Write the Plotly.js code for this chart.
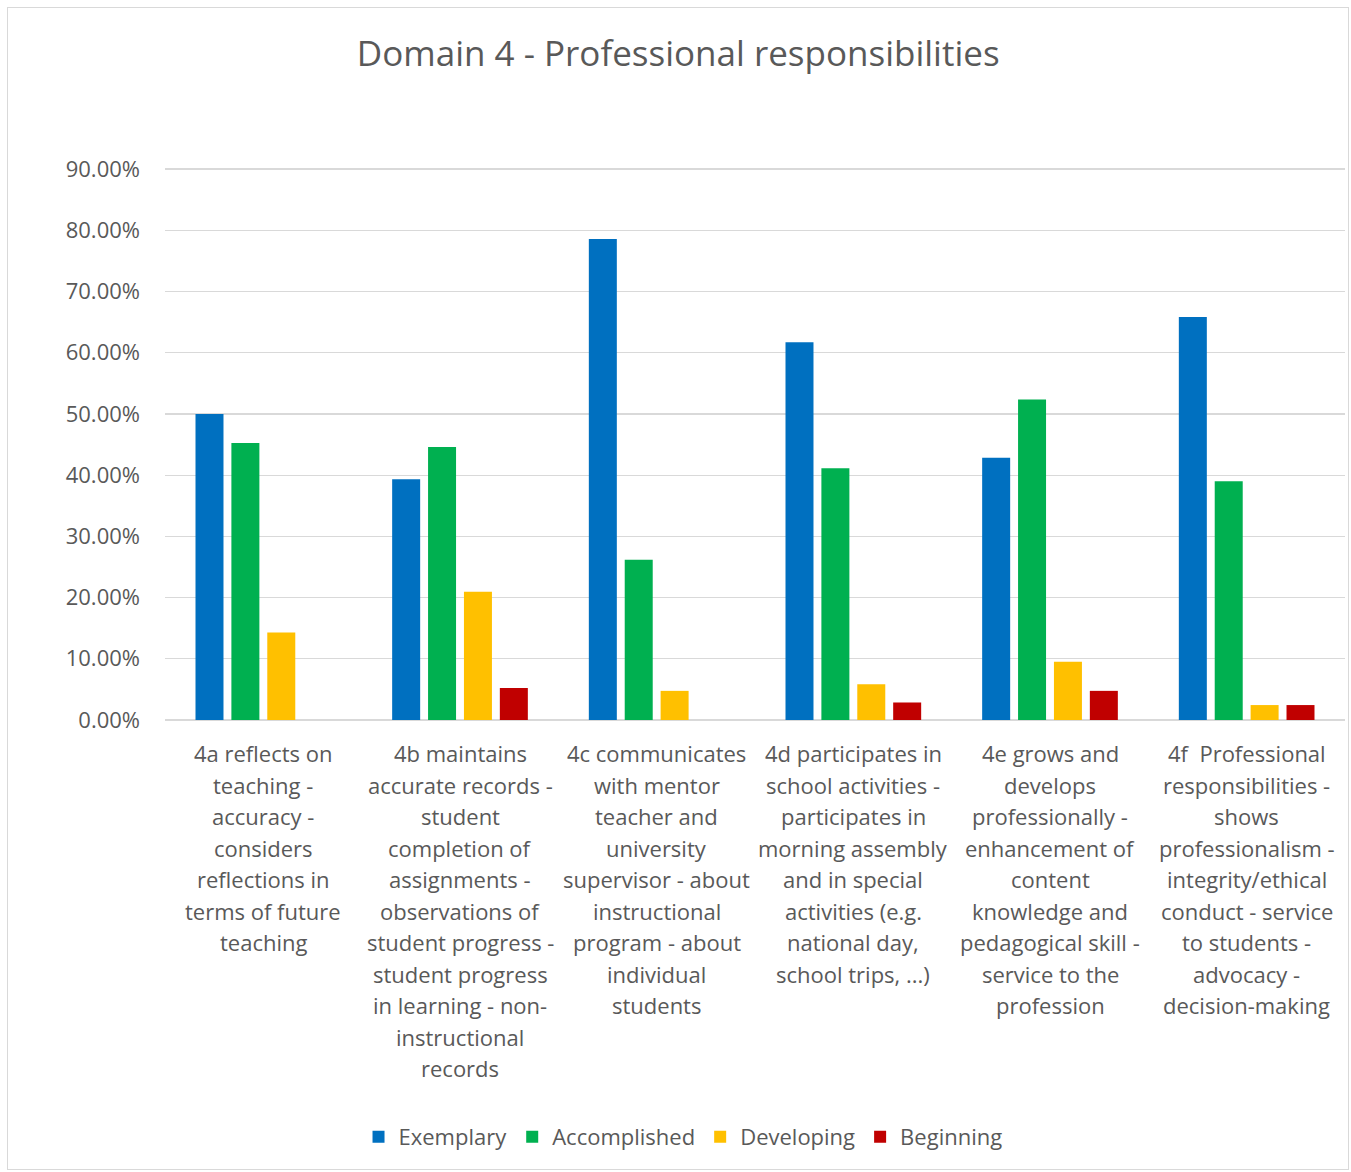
<!DOCTYPE html>
<html>
<head>
<meta charset="utf-8">
<script src="https://cdn.plot.ly/plotly-3.0.1.min.js"></script>
<style>
  html, body { margin: 0; padding: 0; background: #ffffff; }
  #wrap { position: relative; width: 1351px; height: 1172px; }
  #chart { position: absolute; left: 0; top: 0; width: 1351px; height: 1172px; }
  #frame { position: absolute; left: 7px; top: 7px; width: 1340px; height: 1161px;
           border: 1.5px solid #d9d9d9; pointer-events: none; }
</style>
</head>
<body>
<div id="wrap">
  <div id="chart"></div>
  <div id="frame"></div>
</div>
<script>
// ---- data ----
const categoryLines = [
  ["4a reflects on", "teaching -", "accuracy -", "considers", "reflections in", "terms of future", "teaching"],
  ["4b maintains", "accurate records -", "student", "completion of", "assignments -", "observations of", "student progress -", "student progress", "in learning - non-", "instructional", "records"],
  ["4c communicates", "with mentor", "teacher and", "university", "supervisor - about", "instructional", "program - about", "individual", "students"],
  ["4d participates in", "school activities -", "participates in", "morning assembly", "and in special", "activities (e.g.", "national day,", "school trips, ...)"],
  ["4e grows and", "develops", "professionally -", "enhancement of", "content", "knowledge and", "pedagogical skill -", "service to the", "profession"],
  ["4f \u00a0Professional", "responsibilities -", "shows", "professionalism -", "integrity/ethical", "conduct - service", "to students -", "advocacy -", "decision-making"]
];
const categories = categoryLines.map(l => l.join(" "));

const seriesNames = ["Exemplary", "Accomplished", "Developing", "Beginning"];
const exemplary    = [0.5000, 0.3933, 0.7857, 0.6170, 0.4286, 0.6585];
const accomplished = [0.4524, 0.4461, 0.2619, 0.4113, 0.5238, 0.3902];
const developing   = [0.1429, 0.2097, 0.0476, 0.0585, 0.0952, 0.0244];
const beginning    = [0.0000, 0.0524, 0.0000, 0.0286, 0.0476, 0.0244];
const seriesValues = [exemplary, accomplished, developing, beginning];
const seriesColors = ["#0070C0", "#00B050", "#FFC000", "#C00000"];

const yTickVals = [0, 0.1, 0.2, 0.3, 0.4, 0.5, 0.6, 0.7, 0.8, 0.9];

// ---- chart ----
const FONT = "Open Sans, sans-serif";
const GREY = "#595959";

const traces = seriesNames.map((name, i) => ({
  type: "bar",
  name: name,
  x: categories,
  y: seriesValues[i],
  marker: { color: seriesColors[i], line: { width: 0 } },
  hoverinfo: "x+y+name"
}));

const annotations = [];
categoryLines.forEach((lines, ci) => {
  lines.forEach((line, li) => {
    annotations.push({
      x: categories[ci], xref: "x",
      y: 0, yref: "y",
      yanchor: "middle", xanchor: "center",
      yshift: -(33 + li * 31.5),
      text: line,
      showarrow: false,
      font: { family: FONT, size: 22, color: GREY }
    });
  });
});

const layout = {
  width: 1351,
  height: 1172,
  paper_bgcolor: "#ffffff",
  plot_bgcolor: "#ffffff",
  margin: { l: 165, r: 6, t: 168, b: 452, autoexpand: false },
  title: {
    text: "Domain 4 - Professional responsibilities",
    font: { family: FONT, size: 35, color: GREY },
    x: 0.502, xanchor: "center",
    y: 1 - 54 / 1172, yanchor: "middle", yref: "container"
  },
  barmode: "group",
  bargap: 0.27,
  bargroupgap: 0.22,
  xaxis: {
    type: "category",
    showticklabels: false,
    showgrid: false,
    showline: false,
    ticks: "",
    zeroline: false
  },
  yaxis: {
    range: [0, 0.9018],
    tickvals: yTickVals,
    tickformat: ".2%",
    showgrid: true,
    gridcolor: "#d9d9d9",
    gridwidth: 1.3,
    zeroline: true,
    zerolinecolor: "#d9d9d9",
    zerolinewidth: 1.3,
    showline: false,
    ticks: "",
    ticklabelstandoff: 24,
    tickfont: { family: FONT, size: 22, color: GREY }
  },
  showlegend: true,
  legend: {
    orientation: "h",
    x: 0.439, xanchor: "center",
    y: (720 - 1137) / 552, yanchor: "middle",
    font: { family: FONT, size: 22, color: GREY },
    itemwidth: 30,
    traceorder: "normal"
  },
  annotations: annotations
};

Plotly.newPlot("chart", traces, layout, { displayModeBar: false, staticPlot: true });
</script>
</body>
</html>
